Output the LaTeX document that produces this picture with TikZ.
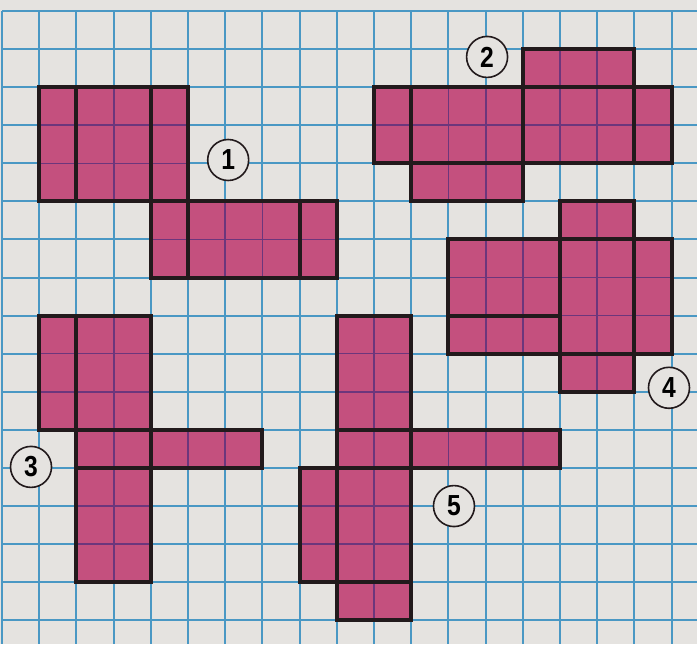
\documentclass[tikz,border=0pt]{standalone}
\usepackage{fontspec}
\setmainfont{Liberation Sans}
\definecolor{paper}{HTML}{E5E3E0}
\definecolor{gridblue}{HTML}{4A98C4}
\definecolor{netpink}{HTML}{C4507E}
\definecolor{gridpurple}{HTML}{6C367C}
\definecolor{ink}{HTML}{221A1C}
\tikzset{
  gridline/.style={draw=gridblue, line width=1pt},
  innerline/.style={draw=gridpurple, line width=0.9pt},
  face/.style={draw=ink, line width=2pt, line join=miter},
  lbl/.style={circle, draw=ink, line width=0.8pt, fill=paper, minimum size=20.5pt,
    inner sep=0pt, font=\fontsize{14.5}{14.5}\selectfont\bfseries},
}
\newcommand{\lbltext}[1]{\scalebox{0.85}[1]{#1}}
\newcommand{\allfaces}{%
  % net 1
  (1,2) rectangle (2,5) (2,2) rectangle (4,5) (4,2) rectangle (5,5)
  (4,5) rectangle (5,7) (5,5) rectangle (8,7) (8,5) rectangle (9,7)
  % net 2
  (14,1) rectangle (17,2) (10,2) rectangle (11,4) (11,2) rectangle (14,4)
  (14,2) rectangle (17,4) (17,2) rectangle (18,4) (11,4) rectangle (14,5)
  % net 4
  (15,5) rectangle (17,6) (12,6) rectangle (15,8) (12,8) rectangle (15,9)
  (15,6) rectangle (17,9) (17,6) rectangle (18,9) (15,9) rectangle (17,10)
  % net 3
  (1,8) rectangle (2,11) (2,8) rectangle (4,11) (2,11) rectangle (4,12)
  (4,11) rectangle (7,12) (2,12) rectangle (4,15)
  % net 5
  (9,8) rectangle (11,11) (9,11) rectangle (11,12) (11,11) rectangle (15,12)
  (8,12) rectangle (9,15) (9,12) rectangle (11,15) (9,15) rectangle (11,16)
}
\begin{document}
\begin{tikzpicture}[x=18.6pt,y=-19.015pt]
  \fill[paper] (-0.0538,-0.297) rectangle (18.683,16.637);
  \useasboundingbox (-0.0538,-0.297) rectangle (18.683,16.637);
  % grid paper
  \foreach \j in {0,...,18} \draw[gridline] (\j,0) -- (\j,16.637);
  \foreach \i in {0,...,16} \draw[gridline] (0,\i) -- (18.683,\i);
  % nets
  \fill[netpink] \allfaces;
  \begin{scope}
    \clip \allfaces;
    \foreach \j in {0,...,18} \draw[innerline] (\j,0) -- (\j,16.637);
    \foreach \i in {0,...,16} \draw[innerline] (0,\i) -- (18.683,\i);
  \end{scope}
  \draw[face] \allfaces;
  % labels
  \node[lbl] (n1) at (6.08,3.91) {\lbltext{1}};
  \node[lbl] (n2) at (13.04,1.2) {\lbltext{2}};
  \node[lbl] (n3) at (0.78,11.98) {\lbltext{3}};
  \node[lbl] (n4) at (17.93,9.9) {\lbltext{4}};
  \node[lbl] (n5) at (12.15,13.01) {\lbltext{5}};
\end{tikzpicture}
\end{document}
